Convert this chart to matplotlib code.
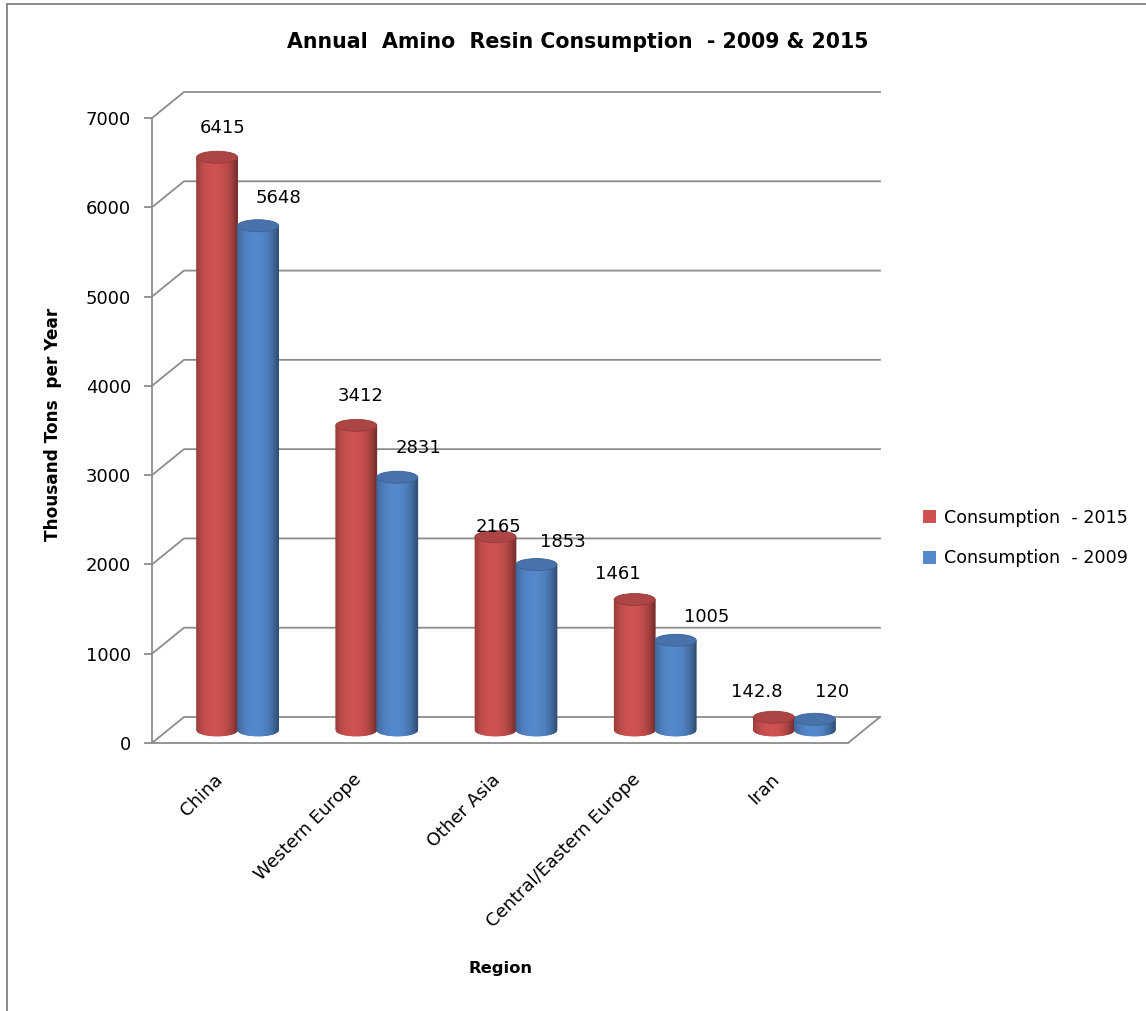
import numpy as np
import matplotlib
matplotlib.use('Agg')
import matplotlib.pyplot as plt
import matplotlib.colors as mcolors
from matplotlib.patches import Ellipse, Rectangle, Patch
from matplotlib.collections import PolyCollection

plt.rcParams['font.family'] = ['DejaVu Sans']

regions = ['China', 'Western Europe', 'Other Asia', 'Central/Eastern Europe', 'Iran']
cons_2015 = [6415, 3412, 2165, 1461, 142.8]
cons_2009 = [5648, 2831, 1853, 1005, 120]
y_ticks = [0, 1000, 2000, 3000, 4000, 5000, 6000, 7000]

series_names = ['Consumption  - 2015', 'Consumption  - 2009']
series_colors = ['#cd5250', '#5488cb']

W, H, DPI = 1146, 1011, 100
fig = plt.figure(figsize=(W / DPI, H / DPI), dpi=DPI)

# front plane of the 3d box, in pixels
left, right, bottom, top = 152, 848, 743, 118
ax = fig.add_axes([left / W, 1 - bottom / H, (right - left) / W, (bottom - top) / H])
n = len(regions)
ymax = y_ticks[-1]
ax.set_xlim(0, n)
ax.set_ylim(0, ymax)

# pixel -> data conversions, used for depth and cylinder sizes
px_x = n / (right - left)
px_y = ymax / (bottom - top)
DX, DY = 32 * px_x, 26 * px_y
bar_w = 41 * px_x
ell_h = 12 * px_y

grid_c = '#8c8c8c'
for v in y_ticks:
    ax.plot([0, DX, n + DX], [v, v + DY, v + DY], color=grid_c, lw=1.3,
            clip_on=False, zorder=1)
ax.plot([n, n + DX], [0, DY], color=grid_c, lw=1.3, clip_on=False, zorder=1)

for s in ['top', 'right']:
    ax.spines[s].set_visible(False)
for s in ['left', 'bottom']:
    ax.spines[s].set_color(grid_c)
    ax.spines[s].set_linewidth(1.3)
ax.set_yticks(y_ticks)
ax.set_yticklabels([str(v) for v in y_ticks], fontsize=13)
ax.tick_params(axis='y', length=6, width=1.3, color=grid_c, pad=9)
ax.set_xticks([])
ax.patch.set_alpha(0)


def cylinder(xc, h, base, color, z):
    rgb = np.array(mcolors.to_rgb(color))
    a, b = bar_w / 2, ell_h / 2
    xs = np.linspace(xc - a, xc + a, 61)
    polys, cols = [], []
    for x0, x1 in zip(xs[:-1], xs[1:]):
        t0, t1 = (x0 - xc) / a, (x1 - xc) / a
        y0 = base - b * np.sqrt(max(0, 1 - t0 ** 2))
        y1 = base - b * np.sqrt(max(0, 1 - t1 ** 2))
        polys.append([(x0, base + h), (x1, base + h), (x1, y1), (x0, y0)])
        tm = (t0 + t1) / 2
        f = 1 - 0.34 * abs(tm + 0.1) ** 2.5
        cols.append(np.clip(rgb * f, 0, 1))
    pc = PolyCollection(polys, facecolors=cols, edgecolors=cols, linewidths=0.5,
                        clip_on=False, zorder=z)
    ax.add_collection(pc)
    ax.add_patch(Ellipse((xc, base + h), 2 * a, 2 * b, facecolor=rgb * 0.84,
                         edgecolor=rgb * 0.72, lw=0.6, clip_on=False, zorder=z + 0.1))


# value label nudges in pixels (x right, y up from the cylinder top)
red_nx = [6, 4, 3, -17, -17]
red_ny = [29, 29, 10, 26, 25]
blue_nx = [20, 21, 26, 31, 17]
blue_ny = [28, 29, 23, 23, 27]

base = DY / 2
for i in range(n):
    xc_r = i + 0.5 - bar_w / 2 + DX / 2
    xc_b = i + 0.5 + bar_w / 2 + DX / 2
    cylinder(xc_r, cons_2015[i], base, series_colors[0], 3)
    cylinder(xc_b, cons_2009[i], base, series_colors[1], 4)
    labels = [(xc_r, cons_2015[i], red_nx[i], red_ny[i]),
              (xc_b, cons_2009[i], blue_nx[i], blue_ny[i])]
    for xc, v, nx, ny in labels:
        ax.annotate(f'{v:g}', xy=(xc, base + v), xytext=(nx * 0.72, ny * 0.72),
                    textcoords='offset points', ha='center', va='center',
                    fontsize=13, zorder=6, annotation_clip=False)
    ax.annotate(regions[i], xy=(i + 0.5, 0), xytext=(-2 * 0.72, -34 * 0.72),
                textcoords='offset points', ha='right', va='center',
                rotation=45, rotation_mode='anchor', fontsize=13,
                annotation_clip=False)

fig.text(578 / W, 1 - 42 / H, 'Annual  Amino  Resin Consumption  - 2009 & 2015',
         ha='center', va='center', fontsize=14.8, fontweight='bold')
fig.text(53 / W, 1 - 424 / H, 'Thousand Tons  per Year', ha='center', va='center',
         rotation=90, fontsize=12.2, fontweight='bold')
fig.text(500 / W, 1 - 969 / H, 'Region', ha='center', va='center',
         fontsize=11.8, fontweight='bold')

handles = [Patch(facecolor=c, edgecolor='none') for c in series_colors]
fig.legend(handles, series_names, loc='center left', frameon=False,
           bbox_to_anchor=(907 / W, 1 - 538 / H), fontsize=12.6,
           handlelength=0.75, handleheight=0.75, handletextpad=0.45,
           labelspacing=1.3)

# chart area border (only left and top edges fall inside the image)
fig.add_artist(Rectangle((7 / W, -0.5), 2, 1.5 - 4 / H, transform=fig.transFigure,
                         fill=False, edgecolor='#8a8a8a', lw=1.4))

fig.savefig('out.png', dpi=DPI)
